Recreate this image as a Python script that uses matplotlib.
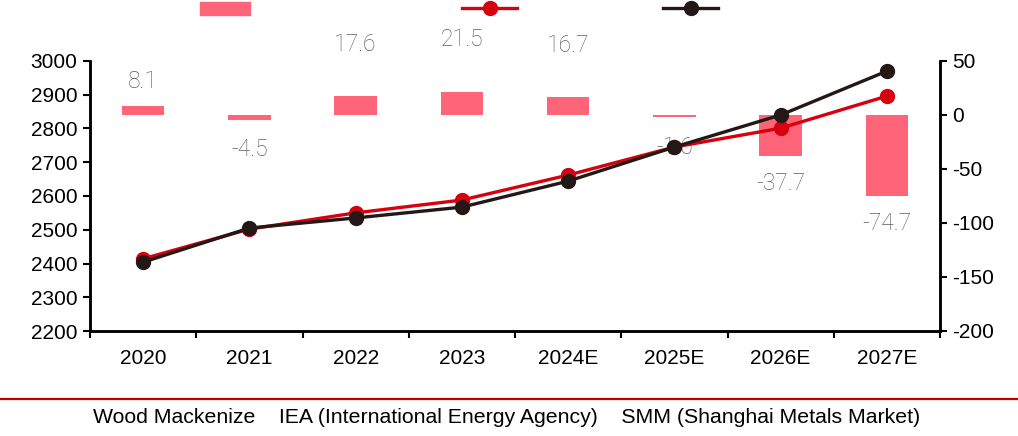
import numpy as np
import matplotlib.pyplot as plt
from matplotlib.patches import Patch
from matplotlib.lines import Line2D

# data
years = ["2020", "2021", "2022", "2023", "2024E", "2025E", "2026E", "2027E"]
iea = [2414, 2502, 2550, 2588, 2662, 2745, 2801, 2896]
smm = [2404, 2505, 2535, 2567, 2644, 2745, 2840, 2970]
gap = [8.1, -4.5, 17.6, 21.5, 16.7, -1.6, -37.7, -74.7]
legend_text = ["Wood Mackenize", "IEA (International Energy Agency)", "SMM (Shanghai Metals Market)"]

bar_color = "#FF6479"
red = "#D7000F"
black = "#231815"

plt.rcParams['font.family'] = ["Liberation Sans", "DejaVu Sans"]
plt.rcParams['axes.unicode_minus'] = False

fig = plt.figure(figsize=(10.18, 4.36), dpi=100)
ax = fig.add_axes([90 / 1018, 1 - 331 / 436, 850 / 1018, 270 / 436])
ax2 = ax.twinx()

x = np.arange(len(years))

# bars on right axis
ax2.bar(x, gap, width=0.4, color=bar_color, zorder=1)
# label offsets in points (labels were hand placed in the original)
offsets = [18, -21, 37, 38, 37, -22, -20, -20]
for xi, v, off in zip(x, gap, offsets):
    ax2.annotate(f"{v}", (xi, v), xytext=(0, off), textcoords="offset points",
                 ha="center", va="center", fontsize=16.5, color="#5f5f5f",
                 family=["Roboto", "DejaVu Sans"], fontweight="light")
ax2.set_ylim(-200, 50)
ax2.set_yticks(np.arange(-200, 51, 50))

# lines on left axis, drawn above bars
ax.set_zorder(ax2.get_zorder() + 1)
ax.patch.set_visible(False)
ax.plot(x, iea, color=red, lw=2.4, marker="o", ms=10, zorder=3)
ax.plot(x, smm, color=black, lw=2.4, marker="o", ms=10, zorder=4)
ax.set_ylim(2200, 3000)
ax.set_yticks(np.arange(2200, 3001, 100))
ax.set_xlim(-0.5, len(years) - 0.5)

ax.set_xticks(x)
ax.set_xticklabels(years)
ax.set_xticks(np.arange(-0.5, len(years)), minor=True)
ax.tick_params(axis="x", which="major", length=0, pad=13, labelsize=15)
ax.tick_params(axis="x", which="minor", length=5, width=1.5, direction="out")
ax.tick_params(axis="y", length=5, width=1.5, labelsize=15, pad=4)
ax2.tick_params(axis="y", length=5, width=1.5, labelsize=15, pad=4)

for a in (ax, ax2):
    a.spines["top"].set_visible(False)
    for s in ("left", "right", "bottom"):
        a.spines[s].set_linewidth(1.8)
        a.spines[s].set_color("black")

# legend handles at the top, text at the bottom
handles = [
    (Patch(color=bar_color), 200, 3.0),
    (Line2D([], [], color=red, lw=2.4, marker="o", ms=10), 462, 3.3),
    (Line2D([], [], color=black, lw=2.4, marker="o", ms=10), 663, 3.3),
]
for h, px, hl in handles:
    fig.legend([h], [""], loc="center left", bbox_to_anchor=(px / 1018, 1 - 10 / 436),
               frameon=False, borderpad=0, borderaxespad=0, handletextpad=0,
               handlelength=hl, handleheight=0.8, fontsize=12)

fig.add_artist(Line2D([0, 1], [1 - 399 / 436, 1 - 399 / 436], transform=fig.transFigure,
                      color="#C00000", lw=1.6))
fig.text(507 / 1018, 1 - 417 / 436, "    ".join(legend_text), ha="center", va="center",
         fontsize=15.3)

fig.savefig("out.png", dpi=100)
